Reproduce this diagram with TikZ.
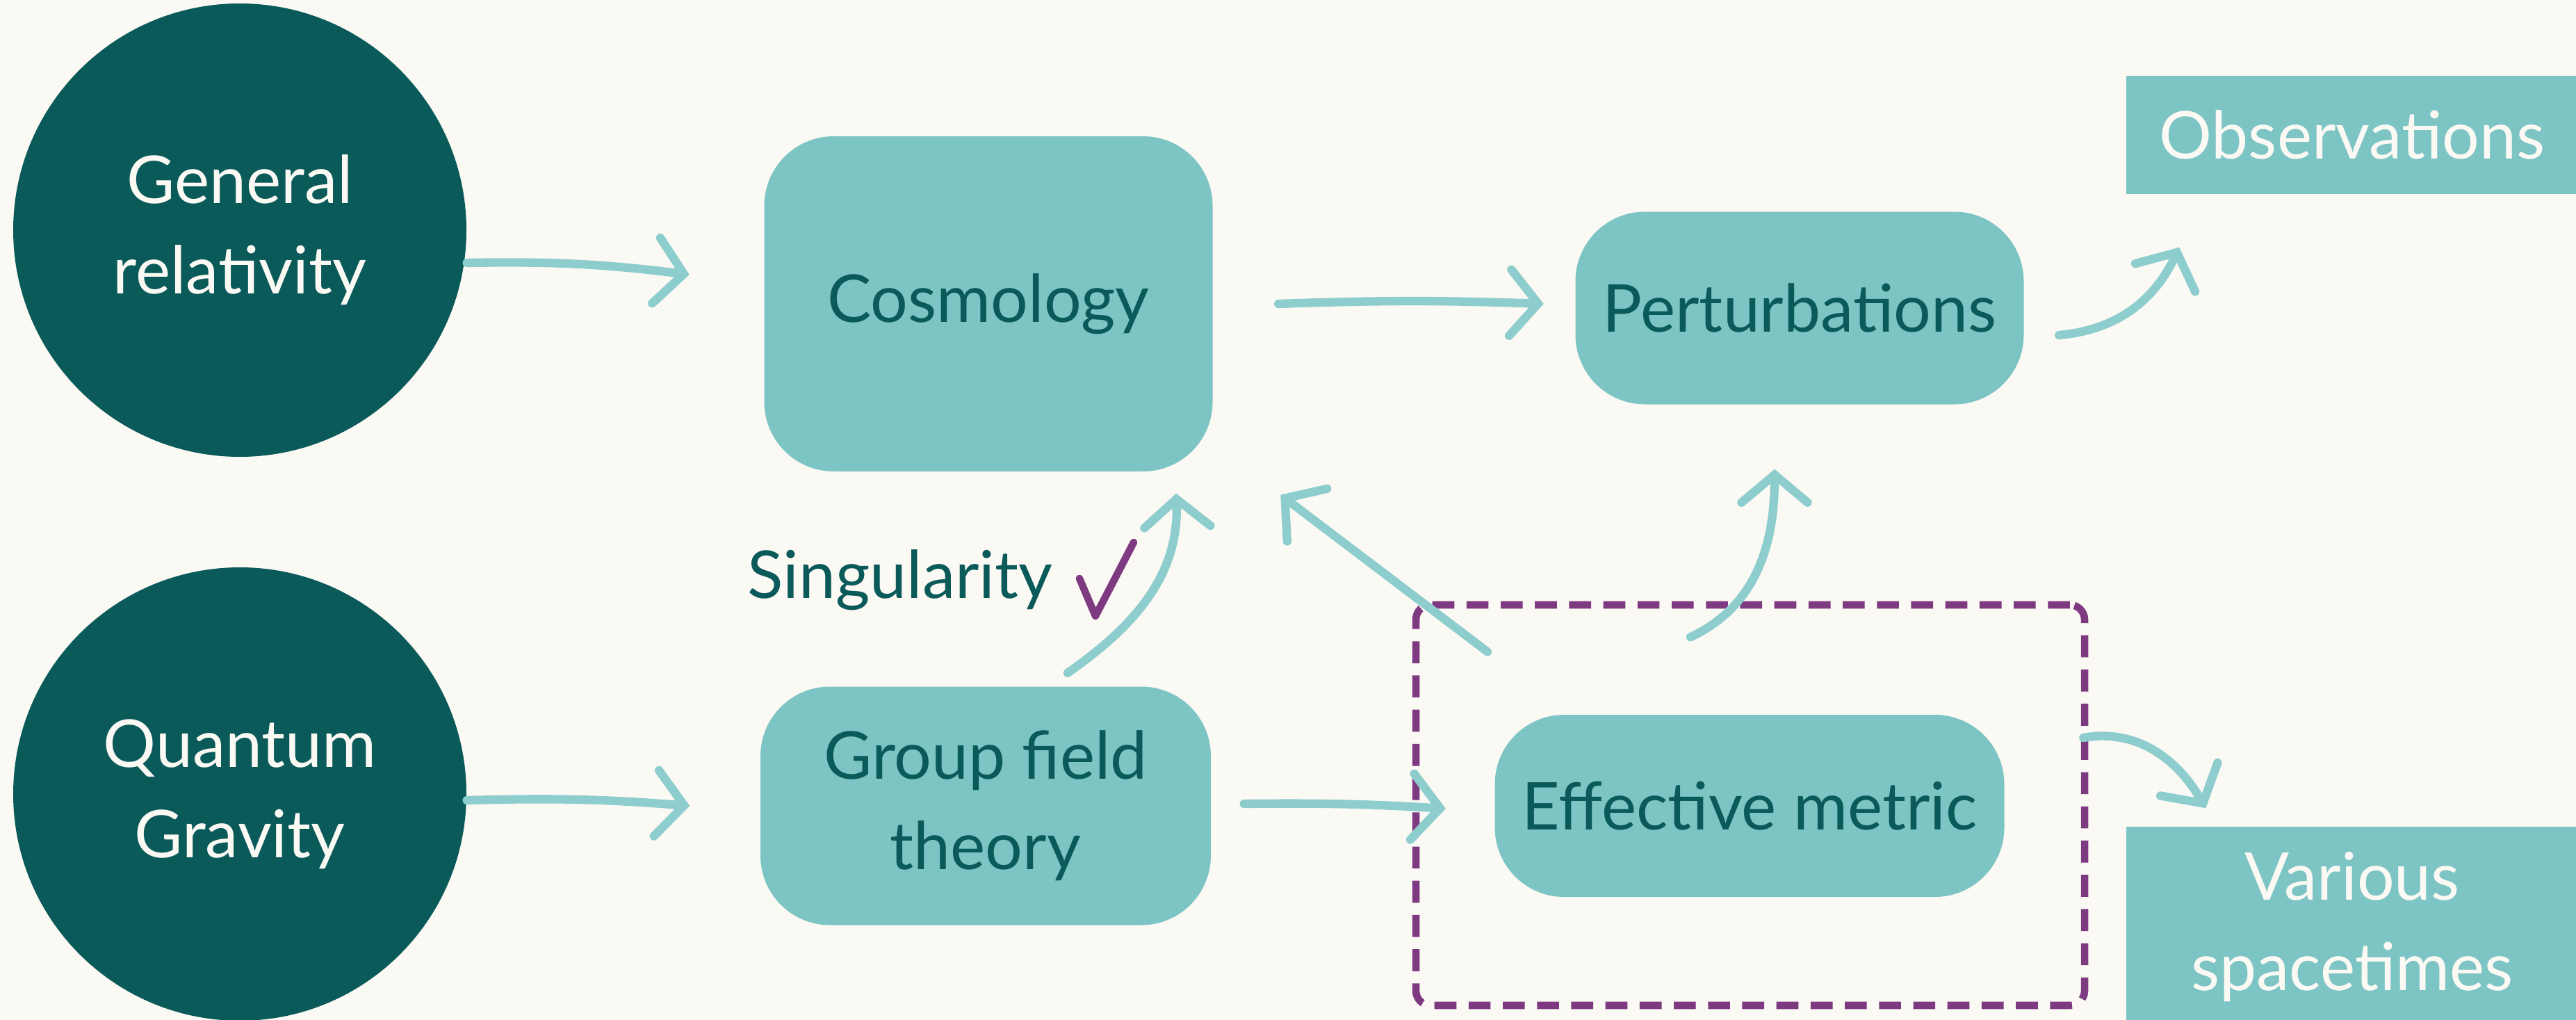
\documentclass[tikz,border=0pt]{standalone}
\usepackage{fontspec}
\setmainfont{Lato}
\usetikzlibrary{arrows.meta}
\definecolor{deep}{HTML}{0B5A5A}
\definecolor{soft}{HTML}{7DC4C4}
\definecolor{brush}{HTML}{8ECDCD}
\definecolor{plum}{HTML}{7D3A80}
\definecolor{back}{HTML}{FBF9F4}

\begin{document}
\begin{tikzpicture}[
    every node/.style={font=\fontsize{27}{37}\selectfont, align=center},
    planet/.style={circle, fill=deep, text=back, minimum size=6.52cm, inner sep=0pt},
    pill/.style={rounded corners=1cm, fill=soft, text=deep},
    banner/.style={fill=soft, text=back},
    flow/.style={draw=brush, line width=3.5pt, line cap=round,
        -{Straight Barb[length=4mm, width=9.5mm, line cap=round]}},
]
    % Background
    \fill[back] (0, 0) rectangle (37.06, -14.66);
    \useasboundingbox (0, 0) rectangle (37.06, -14.66);

    % Theories
    \node[planet] (gr) at (3.45, -3.31) {General\\relativity};
    \node[planet] (qg) at (3.45, -11.42) {Quantum\\Gravity};

    % Boxes
    \node[pill, minimum width=6.45cm, minimum height=4.82cm] (cosmo) at (14.22, -4.37) {Cosmology};
    \node[pill, minimum width=6.45cm, minimum height=2.77cm] (pert) at (25.89, -4.43) {Perturbations};
    \node[pill, minimum width=6.48cm, minimum height=3.43cm] (gft) at (14.18, -11.59) {Group field\\theory};
    \node[pill, minimum width=7.33cm, minimum height=2.62cm] (eff) at (25.17, -11.59) {Effective metric};

    % Outcomes at the edge
    \node[banner, minimum width=6.5cm, minimum height=1.70cm] (obs) at (33.84, -1.94) {Observations};
    \node[banner, minimum width=6.5cm, minimum height=2.88cm] (various) at (33.84, -13.33) {Various\\spacetimes};

    % Dashed frame round the metric
    \node[draw=plum, line width=3pt, dash pattern=on 9pt off 5pt, rounded corners=6pt,
        minimum width=9.62cm, minimum height=5.76cm] (frame) at (25.18, -11.58) {};

    % Singularity label and tick
    \node[text=deep] (sing) at (12.95, -8.34) {Singularity};
    \draw[plum, line width=3pt, line cap=round, line join=round] (15.53, -8.32) -- (15.76, -8.86) -- (16.31, -7.80);

    % Arrows
    \draw[flow] ([yshift=-4.7mm]gr.east) to[bend left=4] ([xshift=-10.7mm, yshift=4.2mm]cosmo.west);
    \draw[flow] ([yshift=-0.9mm]qg.east) to[bend left=3] ([xshift=-10.1mm]gft.west);
    \draw[flow] ([xshift=9.4mm]cosmo.east) to[bend left=2] ([xshift=-4.5mm, yshift=0.6mm]pert.west);
    \draw[flow] ([xshift=4.7mm, yshift=0.3mm]gft.east) to[bend left=2] ([xshift=-7mm, yshift=-0.4mm]eff.west);
    \draw[flow] ([xshift=5mm, yshift=-3.9mm]pert.east) to[out=5, in=-115] ([xshift=7.7mm, yshift=-7.6mm]obs.south west);
    \draw[flow] ([xshift=11.8mm, yshift=1.9mm]gft.north) to[out=35, in=-88] ([xshift=-5.3mm, yshift=-3.1mm]cosmo.south east);
    \draw[flow] ([xshift=-1mm, yshift=9mm]eff.north west) -- ([xshift=9.7mm, yshift=-3.3mm]cosmo.south east);
    \draw[flow] ([xshift=-8.5mm, yshift=11.1mm]eff.north) to[out=25, in=-90] ([xshift=-3.6mm, yshift=-9.25mm]pert.south);
    \draw[flow] ([xshift=-0.7mm, yshift=9.7mm]frame.east) to[out=10, in=120] ([xshift=11.5mm, yshift=2.6mm]various.north west);
\end{tikzpicture}
\end{document}
